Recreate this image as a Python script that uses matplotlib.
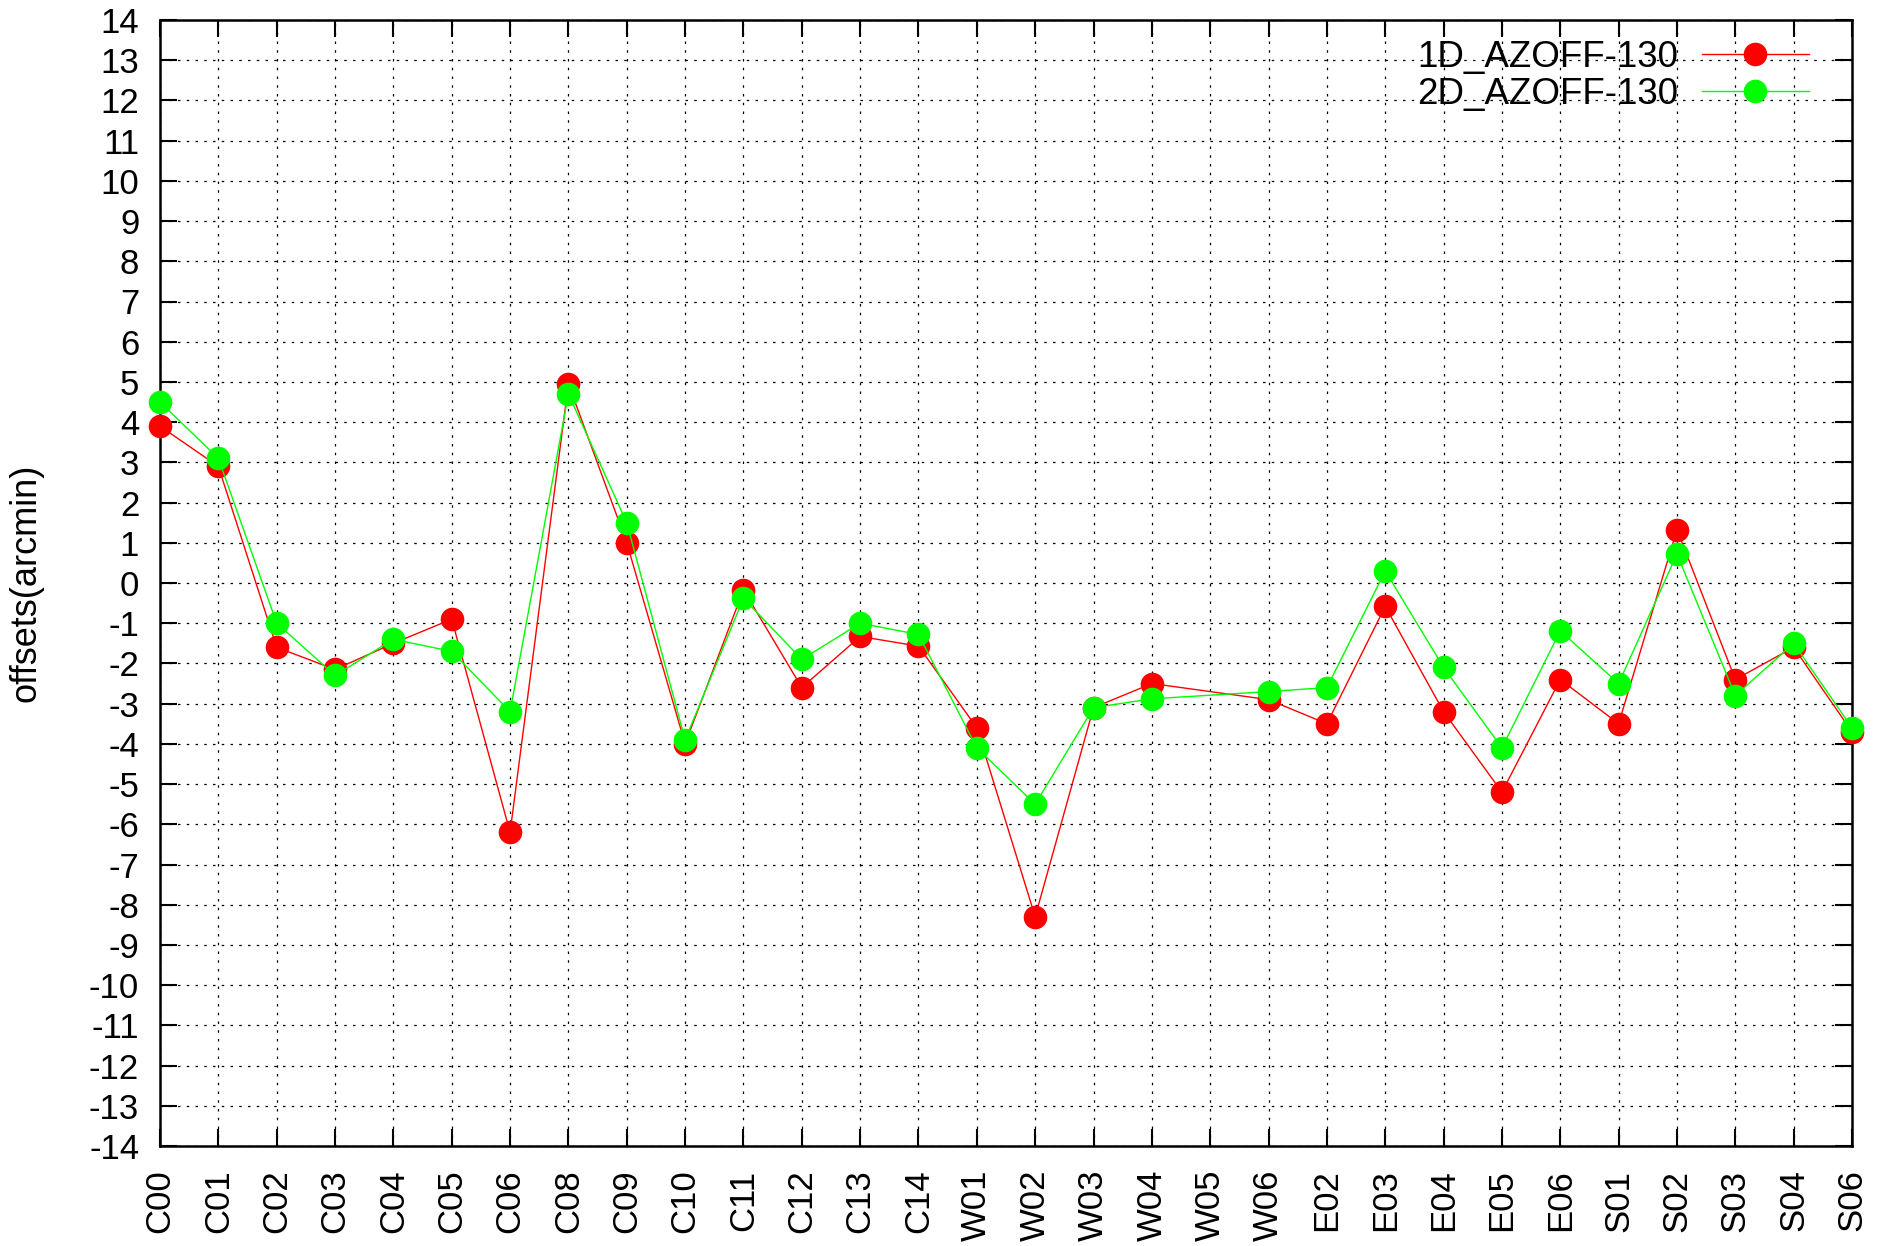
import matplotlib.pyplot as plt
import numpy as np

plt.rcParams['font.family'] = ['Liberation Sans', 'DejaVu Sans']

# stations along the x axis
stations = ["C00", "C01", "C02", "C03", "C04", "C05", "C06", "C08", "C09", "C10",
            "C11", "C12", "C13", "C14", "W01", "W02", "W03", "W04", "W05", "W06",
            "E02", "E03", "E04", "E05", "E06", "S01", "S02", "S03", "S04", "S06"]

# offsets in arcmin (W05 has no measurement)
off_1d = [3.9, 2.9, -1.6, -2.15, -1.5, -0.9, -6.2, 4.95, 1.0, -4.0,
          -0.17, -2.6, -1.33, -1.57, -3.6, -8.3, -3.1, -2.5, np.nan, -2.9,
          -3.5, -0.58, -3.2, -5.2, -2.4, -3.5, 1.33, -2.4, -1.6, -3.7]
off_2d = [4.5, 3.1, -1.0, -2.3, -1.4, -1.7, -3.2, 4.7, 1.5, -3.9,
          -0.38, -1.9, -1.0, -1.28, -4.1, -5.5, -3.1, -2.88, np.nan, -2.7,
          -2.6, 0.3, -2.1, -4.1, -1.19, -2.5, 0.72, -2.8, -1.5, -3.6]

labels = ["1D_AZOFF-130", "2D_AZOFF-130"]
colors = ["#ff0000", "#00ff00"]


def main():
    fig = plt.figure(figsize=(18.89, 12.46), dpi=100)
    ax = fig.add_axes([160 / 1889, 1 - 1146 / 1246, (1852 - 160) / 1889, (1146 - 20) / 1246])

    x = np.arange(len(stations))
    for vals, lab, col in zip([off_1d, off_2d], labels, colors):
        v = np.array(vals, dtype=float)
        m = ~np.isnan(v)
        ax.plot(x[m], v[m], color=col, lw=1.0, marker="o", markersize=17,
                markeredgewidth=0, label=lab, clip_on=False, zorder=3)

    ax.set_xlim(0, len(stations) - 1)
    ax.set_ylim(-14, 14)
    ax.set_xticks(x)
    ax.set_xticklabels(stations, rotation=90, fontsize=25)
    ax.set_yticks(np.arange(-14, 15, 1))
    ax.set_yticklabels([str(v) for v in range(-14, 15)], fontsize=25)
    ax.tick_params(direction="in", length=12, width=1.5, top=True, right=True)
    ax.tick_params(axis="x", pad=17)
    ax.tick_params(axis="y", pad=15)

    ax.grid(True, color="black", linestyle=(0, (2, 5)), linewidth=0.9)
    for s in ax.spines.values():
        s.set_linewidth(1.8)

    ax.set_ylabel("offsets(arcmin)", fontsize=26, labelpad=33)

    ax.legend(loc="upper right", markerfirst=False, frameon=False, fontsize=26.5,
              handlelength=2.9, numpoints=1, borderaxespad=0, borderpad=0.4,
              labelspacing=0.05, handletextpad=0.65, bbox_to_anchor=(0.983, 0.995))

    fig.savefig("out.png", dpi=100)


if __name__ == "__main__":
    main()
